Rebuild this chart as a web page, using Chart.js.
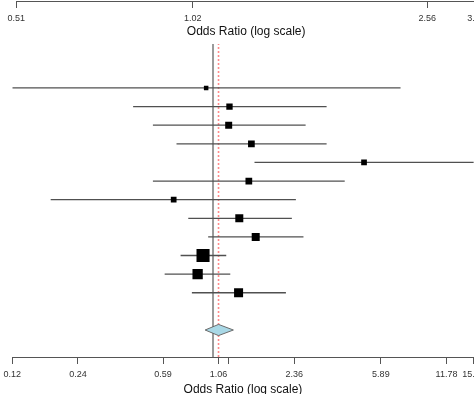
<!DOCTYPE html>
<html>
<head>
<meta charset="utf-8">
<script src="https://cdn.jsdelivr.net/npm/chart.js@4.4.1/dist/chart.umd.min.js"></script>
<style>
  html, body { margin: 0; padding: 0; background: #fff; overflow: hidden; width: 474px; height: 394px; }
  #wrap { position: relative; width: 474px; height: 394px; overflow: hidden; }
  #upper { position: absolute; left: 0; top: -62px; }
  #main { position: absolute; left: 0; top: 0; }
</style>
</head>
<body>
<div id="wrap">
  <canvas id="upper" width="480" height="112"></canvas>
  <canvas id="main" width="480" height="394"></canvas>
</div>
<script>
// Study-level odds ratios with 95% confidence limits (top row first)
const estimates = [0.93, 1.19, 1.18, 1.50, 4.93, 1.46, 0.66, 1.32, 1.57, 0.90, 0.85, 1.31];
const lowerCI   = [0.12, 0.43, 0.53, 0.68, 1.55, 0.53, 0.18, 0.77, 0.95, 0.71, 0.60, 0.80];
const upperCI   = [7.25, 3.32, 2.66, 3.32, 18.0, 4.02, 2.40, 2.30, 2.60, 1.15, 1.20, 2.16];
// Relative study weights (%)
const weights   = [4.9, 6.9, 7.6, 7.3, 6.2, 7.3, 6.2, 8.7, 8.7, 14.2, 11.2, 9.8];
// Pooled random-effects estimate and its confidence limits
const pooledEstimate = 1.06;
const pooledCI = [0.92, 1.24];
const nullValue = 1;

// Axis ticks
const mainTicks = [0.12, 0.24, 0.59, 1.06, 1.18, 2.36, 5.89, 11.78, 15.69];
const mainTickLabels = ['0.12', '0.24', '0.59', '1.06', '', '2.36', '5.89', '11.78', '15.69'];
const upperTicks = [0.51, 1.02, 2.56, 3.10];
const upperTickLabels = ['0.51', '1.02', '2.56', '3.10'];

const FONT = "'Liberation Sans', Arial, sans-serif";
const Y_MIN = -0.45, Y_MAX = 16.36;

function logAxis(ticks, labels, titleGap) {
  return {
    type: 'logarithmic',
    position: 'bottom',
    min: ticks[0],
    max: ticks[ticks.length - 1],
    afterBuildTicks: s => { s.ticks = ticks.map(v => ({ value: v })); },
    afterFit: s => { s.height = 37; s.paddingLeft = 0; s.paddingRight = 0; },
    ticks: {
      autoSkip: false, maxRotation: 0, minRotation: 0, padding: 5,
      color: '#333', font: { family: FONT, size: 9 },
      callback: (v, i) => labels[i]
    },
    grid: { display: true, drawOnChartArea: false, drawTicks: true, tickLength: 7, color: '#555', lineWidth: 1 },
    border: { display: true, color: '#555', width: 1 },
    title: {
      display: true, text: 'Odds Ratio (log scale)', color: '#111',
      font: { family: FONT, size: 12 }, padding: { top: 0, bottom: titleGap }
    }
  };
}

const commonOptions = {
  responsive: false,
  animation: false,
  events: [],
  plugins: { legend: { display: false }, tooltip: { enabled: false } }
};

// Upper panel: only its horizontal axis falls inside the view
new Chart(document.getElementById('upper'), {
  type: 'line',
  data: { datasets: [] },
  options: Object.assign({}, commonOptions, {
    layout: { padding: { top: 0, left: 16.3, right: 4, bottom: 12 } },
    scales: {
      x: logAxis(upperTicks, upperTickLabels, -1),
      y: { type: 'linear', min: 0, max: 1, display: false }
    }
  })
});

// Main forest plot
const rowY = i => estimates.length - i + 2;   // rows 14 .. 3, pooled row at 1
const datasets = [];

datasets.push({
  data: estimates.map((v, i) => ({ x: v, y: rowY(i) })),
  showLine: false,
  pointStyle: 'rect',
  pointRadius: weights.map(w => w * 0.92 / Math.SQRT2),
  backgroundColor: '#000',
  borderColor: '#000',
  borderWidth: 0,
  order: 0
});

estimates.forEach((v, i) => {
  datasets.push({
    data: [{ x: lowerCI[i], y: rowY(i) }, { x: upperCI[i], y: rowY(i) }],
    borderColor: '#505050',
    borderWidth: 1.3,
    pointRadius: 0,
    order: 1
  });
});

const dh = 0.3;
datasets.push({
  data: [
    { x: pooledCI[0], y: 1 },
    { x: pooledEstimate, y: 1 + dh },
    { x: pooledCI[1], y: 1 },
    { x: pooledEstimate, y: 1 - dh },
    { x: pooledCI[0], y: 1 }
  ],
  fill: 'shape',
  backgroundColor: '#a9d8e6',
  borderColor: '#6a6a6a',
  borderWidth: 1,
  pointRadius: 0,
  tension: 0,
  order: 2
});

datasets.push({
  data: [{ x: nullValue, y: Y_MIN }, { x: nullValue, y: Y_MAX }],
  borderColor: '#9a9a9a',
  borderWidth: 2,
  pointRadius: 0,
  order: 3
});

datasets.push({
  data: [{ x: pooledEstimate, y: Y_MIN }, { x: pooledEstimate, y: Y_MAX }],
  borderColor: '#ff8a8a',
  borderWidth: 1.6,
  borderDash: [2, 2],
  pointRadius: 0,
  order: 3
});

new Chart(document.getElementById('main'), {
  type: 'line',
  data: { datasets },
  options: Object.assign({}, commonOptions, {
    layout: { padding: { top: 44, left: 12.3, right: 4, bottom: 0 } },
    scales: {
      x: logAxis(mainTicks, mainTickLabels, -3),
      y: { type: 'linear', min: Y_MIN, max: Y_MAX, display: false }
    }
  })
});
</script>
</body>
</html>
